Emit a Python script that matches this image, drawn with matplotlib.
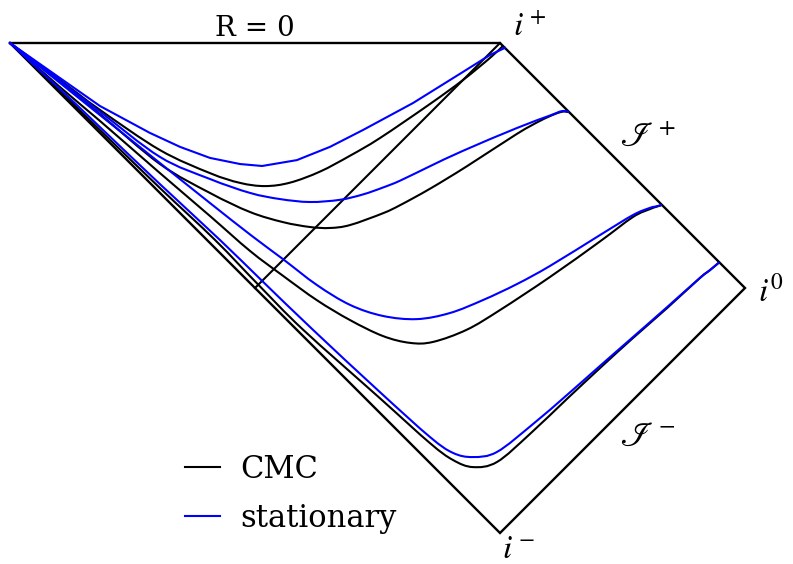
import matplotlib
matplotlib.use('Agg')
import matplotlib.pyplot as plt
from matplotlib.path import Path
from matplotlib.patches import PathPatch
from matplotlib.lines import Line2D
import numpy as np

plt.rcParams['font.family'] = ['DejaVu Serif']
plt.rcParams['mathtext.fontset'] = 'stix'

# Penrose diagram outline (X, T)
boundary_X = [-2.0, 0.0, 1.0, 0.0, -2.0]
boundary_T = [1.0, 1.0, 0.0, -1.0, 1.0]
horizon_X = [0.0, -1.0]
horizon_T = [1.0, 0.0]

# CMC slices (black)
cmc1_X = [-2.0, -1.796, -1.633, -1.388, -1.184, -1.061, -0.959, -0.857, -0.735, -0.612, -0.490, -0.286, -0.151, -0.041, 0.012]
cmc1_T = [1.0, 0.849, 0.727, 0.563, 0.469, 0.429, 0.416, 0.430, 0.475, 0.540, 0.612, 0.751, 0.849, 0.939, 0.988]

cmc2_X = [-2.0, -1.796, -1.633, -1.388, -1.184, -1.020, -0.886, -0.776, -0.694, -0.612, -0.478, -0.408, -0.286, -0.135, 0.069, 0.163, 0.224, 0.257, 0.282]
cmc2_T = [1.0, 0.841, 0.710, 0.506, 0.388, 0.310, 0.269, 0.249, 0.245, 0.257, 0.305, 0.338, 0.405, 0.497, 0.629, 0.682, 0.710, 0.720, 0.718]

cmc3_X = [-2.0, -1.796, -1.633, -1.388, -1.184, -1.020, -0.886, -0.747, -0.612, -0.478, -0.367, -0.273, -0.135, 0.000, 0.204, 0.408, 0.543, 0.612, 0.637, 0.661]
cmc3_T = [1.0, 0.820, 0.682, 0.469, 0.294, 0.151, 0.050, -0.050, -0.131, -0.196, -0.224, -0.220, -0.170, -0.090, 0.045, 0.190, 0.290, 0.322, 0.331, 0.339]

cmc4_X = [-2.0, -1.796, -1.633, -1.388, -1.163, -0.988, -0.804, -0.490, -0.286, -0.192, -0.110, -0.012, 0.122, 0.273, 0.408, 0.543, 0.682, 0.816, 0.857, 0.895]
cmc4_T = [1.0, 0.804, 0.645, 0.408, 0.196, 0.015, -0.170, -0.450, -0.633, -0.702, -0.731, -0.710, -0.596, -0.453, -0.327, -0.204, -0.082, 0.041, 0.073, 0.105]

# stationary slices (blue)
stat1_X = [-2.0, -1.796, -1.633, -1.429, -1.306, -1.184, -1.061, -0.971, -0.829, -0.694, -0.559, -0.355, -0.151, -0.041, 0.020]
stat1_T = [1.0, 0.857, 0.743, 0.633, 0.576, 0.531, 0.506, 0.498, 0.522, 0.576, 0.645, 0.755, 0.882, 0.951, 0.980]

stat2_X = [-2.0, -1.796, -1.633, -1.388, -1.184, -1.020, -0.898, -0.776, -0.653, -0.559, -0.478, -0.408, -0.286, -0.151, 0.069, 0.204, 0.253, 0.282]
stat2_T = [1.0, 0.845, 0.720, 0.535, 0.445, 0.388, 0.363, 0.351, 0.360, 0.382, 0.410, 0.438, 0.497, 0.560, 0.653, 0.704, 0.722, 0.718]

stat3_X = [-2.0, -1.796, -1.633, -1.388, -1.184, -1.012, -0.886, -0.747, -0.612, -0.478, -0.339, -0.204, -0.069, 0.069, 0.204, 0.408, 0.543, 0.612, 0.637, 0.661]
stat3_T = [1.0, 0.837, 0.706, 0.510, 0.347, 0.212, 0.118, 0.012, -0.069, -0.114, -0.127, -0.102, -0.049, 0.016, 0.090, 0.216, 0.298, 0.327, 0.333, 0.339]

stat4_X = [-2.0, -1.796, -1.633, -1.388, -1.143, -0.971, -0.763, -0.490, -0.286, -0.192, -0.110, -0.012, 0.135, 0.273, 0.408, 0.543, 0.682, 0.816, 0.857, 0.895]
stat4_T = [1.0, 0.812, 0.657, 0.424, 0.196, 0.029, -0.171, -0.425, -0.608, -0.673, -0.690, -0.669, -0.555, -0.437, -0.318, -0.200, -0.078, 0.041, 0.073, 0.105]

cmc_X = [cmc1_X, cmc2_X, cmc3_X, cmc4_X]
cmc_T = [cmc1_T, cmc2_T, cmc3_T, cmc4_T]
stat_X = [stat1_X, stat2_X, stat3_X, stat4_X]
stat_T = [stat1_T, stat2_T, stat3_T, stat4_T]

series_labels = ['CMC', 'stationary']
series_colors = ['black', '#0000ff']


def smooth_path(xs, ts):
    """Catmull-Rom curve through the read points, as cubic Bezier segments."""
    p = np.column_stack([xs, ts]).astype(float)
    verts = [p[0]]
    codes = [Path.MOVETO]
    n = len(p)
    for i in range(n - 1):
        p0 = p[i - 1] if i > 0 else p[i]
        p1 = p[i]
        p2 = p[i + 1]
        p3 = p[i + 2] if i + 2 < n else p[i + 1]
        c1 = p1 + (p2 - p0) / 6.0
        c2 = p2 - (p3 - p1) / 6.0
        verts += [c1, c2, p2]
        codes += [Path.CURVE4] * 3
    return Path(verts, codes)


W, H = 793, 564
fig = plt.figure(figsize=(W / 100, H / 100), dpi=100)
ax = fig.add_axes([0, 0, 1, 1])
scale = 245.0
ax.set_xlim(-500 / scale, (W - 500) / scale)
ax.set_ylim((288 - H) / scale, 288 / scale)
ax.axis('off')

ax.plot(boundary_X, boundary_T, color='black', lw=1.7, solid_joinstyle='miter', zorder=1)
ax.plot(horizon_X, horizon_T, color='black', lw=1.5, zorder=1)

for xs, ts in zip(cmc_X, cmc_T):
    ax.add_patch(PathPatch(smooth_path(xs, ts), fill=False, edgecolor=series_colors[0], lw=1.5, zorder=2))
for k, (xs, ts) in enumerate(zip(stat_X, stat_T)):
    if k == 0:
        ax.plot(xs, ts, color=series_colors[1], lw=1.5, zorder=3)
    else:
        ax.add_patch(PathPatch(smooth_path(xs, ts), fill=False, edgecolor=series_colors[1], lw=1.5, zorder=3))

handles = [Line2D([], [], color=c, lw=1.5) for c in series_colors]

ax.text(-1.0, 1.0 + 7 / scale, 'R = 0', ha='center', va='baseline', fontsize=20)
ax.text(13 / scale, 1.0 + 7 / scale, r'$i^+$', ha='left', va='baseline', fontsize=24)
ax.text(1.0 + 13 / scale, -13 / scale, r'$i^0$', ha='left', va='baseline', fontsize=24)
ax.text(2 / scale, -1.0 - 25 / scale, r'$i^-$', ha='left', va='baseline', fontsize=24)
ax.text(0.49, 0.58, r'$\mathscr{I}^+$', ha='left', va='baseline', fontsize=25)
ax.text(0.49, -0.645, r'$\mathscr{I}^-$', ha='left', va='baseline', fontsize=25)

ax.legend(handles, series_labels, loc='upper left',
          bbox_to_anchor=(185 / W, 1 - 454 / H), bbox_transform=fig.transFigure,
          frameon=False, fontsize=22, handlelength=1.15, handletextpad=0.65,
          labelspacing=0.58, borderpad=0, borderaxespad=0)

fig.savefig('out.png', dpi=100)
